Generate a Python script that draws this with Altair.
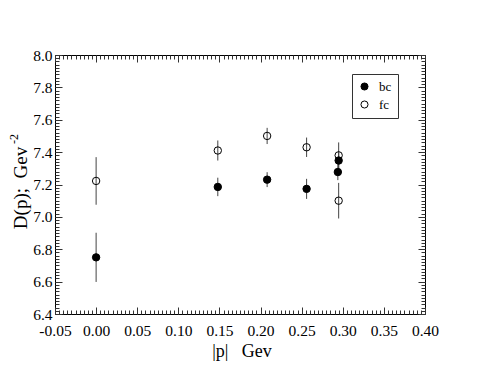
import altair as alt
import pandas as pd

# ---- data ----
bc_x = [0.000, 0.148, 0.208, 0.256, 0.294, 0.295]
bc_y = [6.75, 7.185, 7.23, 7.173, 7.277, 7.348]
bc_err = [0.152, 0.057, 0.046, 0.062, 0.05, 0.05]
fc_x = [0.000, 0.148, 0.208, 0.256, 0.295, 0.295]
fc_y = [7.222, 7.41, 7.50, 7.43, 7.38, 7.10]
fc_err = [0.147, 0.062, 0.05, 0.06, 0.08, 0.11]

x_major = [-0.05, 0.0, 0.05, 0.10, 0.15, 0.20, 0.25, 0.30, 0.35, 0.40]
y_major = [6.4, 6.6, 6.8, 7.0, 7.2, 7.4, 7.6, 7.8, 8.0]
x_minor = [round(-0.05 + 0.005 * i, 4) for i in range(91)]
y_minor = [round(6.4 + 0.02 * i, 4) for i in range(81)]

rows = []
for s, xs, ys, es in (("bc", bc_x, bc_y, bc_err), ("fc", fc_x, fc_y, fc_err)):
    for x, y, e in zip(xs, ys, es):
        rows.append({"series": s, "x": x, "y": y, "lo": y - e, "hi": y + e})
df = pd.DataFrame(rows)

FONT = "Liberation Serif"
xs_ = alt.Scale(domain=[-0.05, 0.40], nice=False, zero=False)
ys_ = alt.Scale(domain=[6.4, 8.0], nice=False, zero=False)

base = alt.Chart(df)

main_x = alt.Axis(values=x_major, format=".2f", grid=False, ticks=False, tickSize=0,
                  domain=False, labelFont=FONT, labelFontSize=15.5, labelColor="black",
                  labelPadding=9, labelOverlap=False, labelFlush=False, title=None,
                  labelExpr="replace(datum.label, '\u2212', '-')")
main_y = alt.Axis(values=y_major, format=".1f", grid=False, ticks=False, tickSize=0,
                  domain=False, labelFont=FONT, labelFontSize=15.5, labelColor="black",
                  labelPadding=3, labelOverlap=False, labelFlush=False, title=None)

errbars = base.mark_rule(color="#444", strokeWidth=1).encode(
    x=alt.X("x:Q", scale=xs_, axis=main_x),
    y=alt.Y("lo:Q", scale=ys_, axis=main_y),
    y2="hi:Q",
)

points = base.mark_point(shape="circle", size=55, strokeWidth=1, stroke="black",
                         opacity=1).encode(
    x=alt.X("x:Q", scale=xs_, axis=None),
    y=alt.Y("y:Q", scale=ys_, axis=None),
    fill=alt.Fill("series:N", scale=alt.Scale(domain=["bc", "fc"],
                                              range=["black", "transparent"]),
                  legend=alt.Legend(orient="none", legendX=297, legendY=19, title=None,
                                    strokeColor="#333", fillColor="white", padding=6,
                                    labelFont=FONT, labelFontSize=13, labelColor="black",
                                    symbolSize=50, symbolStrokeWidth=1,
                                    symbolStrokeColor="black", symbolType="circle",
                                    rowPadding=4, labelOffset=8, cornerRadius=0)),
)


def tick_layer(xorient, yorient, xvals, yvals, size):
    ax = alt.Axis(orient=xorient, values=xvals, offset=-size, tickSize=size,
                  domain=False, labels=False, grid=False, title=None,
                  tickColor="#333", tickWidth=1)
    ay = alt.Axis(orient=yorient, values=yvals, offset=-size, tickSize=size,
                  domain=False, labels=False, grid=False, title=None,
                  tickColor="#333", tickWidth=1)
    return base.mark_point(opacity=0).encode(
        x=alt.X("x:Q", scale=xs_, axis=ax),
        y=alt.Y("y:Q", scale=ys_, axis=ay),
    )


t1 = tick_layer("bottom", "left", x_major, y_major, 7)
t2 = tick_layer("bottom", "left", x_minor, y_minor, 4)
t3 = tick_layer("top", "right", x_major, y_major, 7)
t4 = tick_layer("top", "right", x_minor, y_minor, 4)

one = alt.Data(values=[{}])
xtitle = alt.Chart(one).mark_text(font=FONT, fontSize=18, color="black",
                                  baseline="middle", align="center").encode(
    x=alt.value(187), y=alt.value(297), text=alt.value("|p|\u00a0\u00a0\u00a0Gev"))
ytitle = alt.Chart(one).mark_text(font=FONT, fontSize=19, color="black", angle=270,
                                  baseline="middle", align="center").encode(
    x=alt.value(-34), y=alt.value(133), text=alt.value("D(p);\u00a0\u00a0Gev"))
ysup = alt.Chart(one).mark_text(font=FONT, fontSize=12, color="black", angle=270,
                                baseline="middle", align="center").encode(
    x=alt.value(-41), y=alt.value(84), text=alt.value("-2"))

chart = alt.layer(t1, t2, t3, t4, errbars, points, xtitle, ytitle, ysup).resolve_axis(
    x="independent", y="independent"
).properties(
    width=370, height=259,
    autosize=alt.AutoSizeParams(type="none"),
    padding={"left": 47, "top": 47, "right": 47, "bottom": 48},
).configure_view(stroke="black", strokeWidth=1).configure_axis(
    labelFont=FONT, labelColor="black"
)

chart.save("out.html", embed_options={"renderer": "svg", "actions": False})
